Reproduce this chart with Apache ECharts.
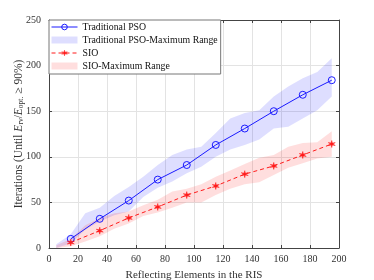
<!DOCTYPE html>
<html>
<head>
<meta charset="utf-8">
<script src="https://cdn.jsdelivr.net/npm/echarts@6/dist/echarts.min.js"></script>
<style>html,body{margin:0;padding:0;background:#fff}#c{width:374px;height:280px}</style>
</head>
<body>
<div id="c"></div>
<script>
var markerX = [15, 35, 55, 75, 95, 115, 135, 155, 175, 195];
var psoValues = [10, 32, 52, 75, 91, 113, 131, 150, 168, 184];
var sioValues = [6, 19, 33, 45, 58, 68, 81, 90, 102, 114];

var bandX = [5, 15, 25, 35, 45, 55, 65, 75, 85, 95, 105, 115, 125, 135, 145, 155, 165, 175, 185, 195];
var psoUpper = [4, 15, 38, 44, 57, 67, 78, 91, 102, 108, 111, 126, 142, 148, 151, 166, 177, 186, 193, 208];
var psoLower = [0, 5, 20, 29, 36, 40, 56, 66, 73, 82, 89, 100, 108, 113, 119, 131, 133, 142, 151, 166];
var sioUpper = [3, 10, 25, 33, 38, 40, 47, 53, 62, 65, 70, 78, 85, 92, 99, 102, 111, 115, 116, 128];
var sioLower = [0, 2, 7, 13, 21, 27, 35, 39, 44, 50, 50, 58, 65, 70, 72, 80, 88, 93, 98, 100];

var xTicks = [0, 20, 40, 60, 80, 100, 120, 140, 160, 180, 200];
var yTicks = [0, 50, 100, 150, 200, 250];

function pairs(xs, ys) { return xs.map(function (x, i) { return [x, ys[i]]; }); }
function triples(xs, lo, hi) { return xs.map(function (x, i) { return [x, lo[i], hi[i]]; }); }

var FONT = 'Liberation Serif';
var TXT = '#333';
var starPath = 'path://M50,0 L58,36 L95,30 L62,50 L95,70 L58,64 L50,100 L42,64 L5,70 L38,50 L5,30 L42,36 Z';

function makeBand(name, lo, hi, color) {
  var d = triples(bandX, lo, hi);
  return {
    name: name, type: 'custom', data: d, z: 1,
    encode: { x: 0, y: [1, 2] },
    itemStyle: { color: color },
    renderItem: function (params, api) {
      if (params.dataIndex !== 0) return null;
      var top = [], bottom = [];
      for (var i = 0; i < d.length; i++) {
        top.push(api.coord([d[i][0], d[i][2]]));
        bottom.push(api.coord([d[i][0], d[i][1]]));
      }
      return {
        type: 'polygon',
        shape: { points: top.concat(bottom.reverse()) },
        style: { fill: color, stroke: null },
        clipPath: {
          type: 'rect',
          shape: { x: params.coordSys.x, y: params.coordSys.y, width: params.coordSys.width, height: params.coordSys.height }
        }
      };
    }
  };
}

var chart = echarts.init(document.getElementById('c'), null, { renderer: 'canvas' });
var axisCol = '#444';
var psoBand = 'rgba(0,0,255,0.13)';
var sioBand = 'rgba(255,0,0,0.13)';
var option = {
  animation: false,
  textStyle: { fontFamily: FONT },
  grid: { left: 49, right: 35, top: 20, bottom: 32, containLabel: false, outerBoundsMode: 'none' },
  legend: {
    orient: 'vertical', left: 49, top: 20,
    backgroundColor: '#fff', borderColor: '#777', borderWidth: 1,
    padding: [2, 3, 3, 2], itemGap: 3, itemWidth: 26, itemHeight: 7,
    lineStyle: { width: 1 },
    textStyle: { fontFamily: FONT, fontSize: 9.8, color: '#111', lineHeight: 9 },
    data: [
      { name: 'Traditional PSO', itemStyle: { borderWidth: 1 } },
      { name: 'Traditional PSO-Maximum Range', icon: 'rect', itemStyle: { color: psoBand } },
      { name: 'SIO', itemStyle: { borderWidth: 0.5 } },
      { name: 'SIO-Maximum Range', icon: 'rect', itemStyle: { color: sioBand } }
    ]
  },
  xAxis: [{
    type: 'value', min: 0, max: 200, interval: 20,
    name: 'Reflecting Elements in the RIS', nameLocation: 'middle', nameGap: 22,
    nameTextStyle: { fontFamily: FONT, fontSize: 11, color: TXT },
    axisLine: { show: true, onZero: false, lineStyle: { color: axisCol, width: 1 } },
    axisTick: { show: true, inside: true, length: 3, lineStyle: { color: axisCol } },
    axisLabel: { fontFamily: FONT, fontSize: 10, color: TXT, margin: 6,
      formatter: function (v) { return xTicks.indexOf(v) >= 0 ? String(v) : ''; } },
    splitLine: { show: true, lineStyle: { color: '#e3e3e3', width: 1 } }
  }, {
    type: 'value', min: 0, max: 200, interval: 20, position: 'top',
    axisLine: { show: true, onZero: false, lineStyle: { color: axisCol, width: 1 } },
    axisTick: { show: true, inside: true, length: 3, lineStyle: { color: axisCol } },
    axisLabel: { show: false }, splitLine: { show: false }
  }],
  yAxis: [{
    type: 'value', min: 0, max: 250, interval: 50,
    name: '{n|Iterations (Until }{i|E}{s|rv}{n|/}{i|E}{s|opt.}{n| ≥ 90%)}',
    nameLocation: 'middle', nameGap: 24, nameRotate: 90, nameMoveOverlap: false,
    nameTextStyle: {
      fontFamily: FONT, fontSize: 11.5, color: TXT,
      rich: {
        n: { fontFamily: FONT, fontSize: 11.5, color: TXT },
        i: { fontFamily: FONT, fontSize: 11.5, fontStyle: 'italic', color: TXT },
        s: { fontFamily: FONT, fontSize: 7.5, color: TXT, verticalAlign: 'bottom', padding: [5, 0, 0, 0] }
      }
    },
    axisLine: { show: true, onZero: false, lineStyle: { color: axisCol, width: 1 } },
    axisTick: { show: true, inside: true, length: 3, lineStyle: { color: axisCol } },
    axisLabel: { fontFamily: FONT, fontSize: 10, color: TXT, margin: 8,
      formatter: function (v) { return yTicks.indexOf(v) >= 0 ? String(v) : ''; } },
    splitLine: { show: true, lineStyle: { color: '#e3e3e3', width: 1 } }
  }, {
    type: 'value', min: 0, max: 250, interval: 50, position: 'right',
    axisLine: { show: true, onZero: false, lineStyle: { color: axisCol, width: 1 } },
    axisTick: { show: true, inside: true, length: 3, lineStyle: { color: axisCol } },
    axisLabel: { show: false }, splitLine: { show: false }
  }],
  series: [
    makeBand('Traditional PSO-Maximum Range', psoLower, psoUpper, psoBand),
    makeBand('SIO-Maximum Range', sioLower, sioUpper, sioBand),
    { name: 'Traditional PSO', type: 'line', data: pairs(markerX, psoValues),
      symbol: 'circle', symbolSize: 7, showAllSymbol: true,
      lineStyle: { color: '#1a1aff', width: 1 },
      itemStyle: { color: 'rgba(255,255,255,0)', borderColor: '#1a1aff', borderWidth: 1 }, z: 5 },
    { name: 'SIO', type: 'line', data: pairs(markerX, sioValues),
      symbol: starPath, symbolSize: 7, showAllSymbol: true,
      lineStyle: { color: '#ff1a1a', width: 1, type: [4, 3] },
      itemStyle: { color: '#ff1a1a', borderColor: '#ff1a1a', borderWidth: 0.5 }, z: 5 }
  ]
};
chart.setOption(option);
</script>
</body>
</html>
